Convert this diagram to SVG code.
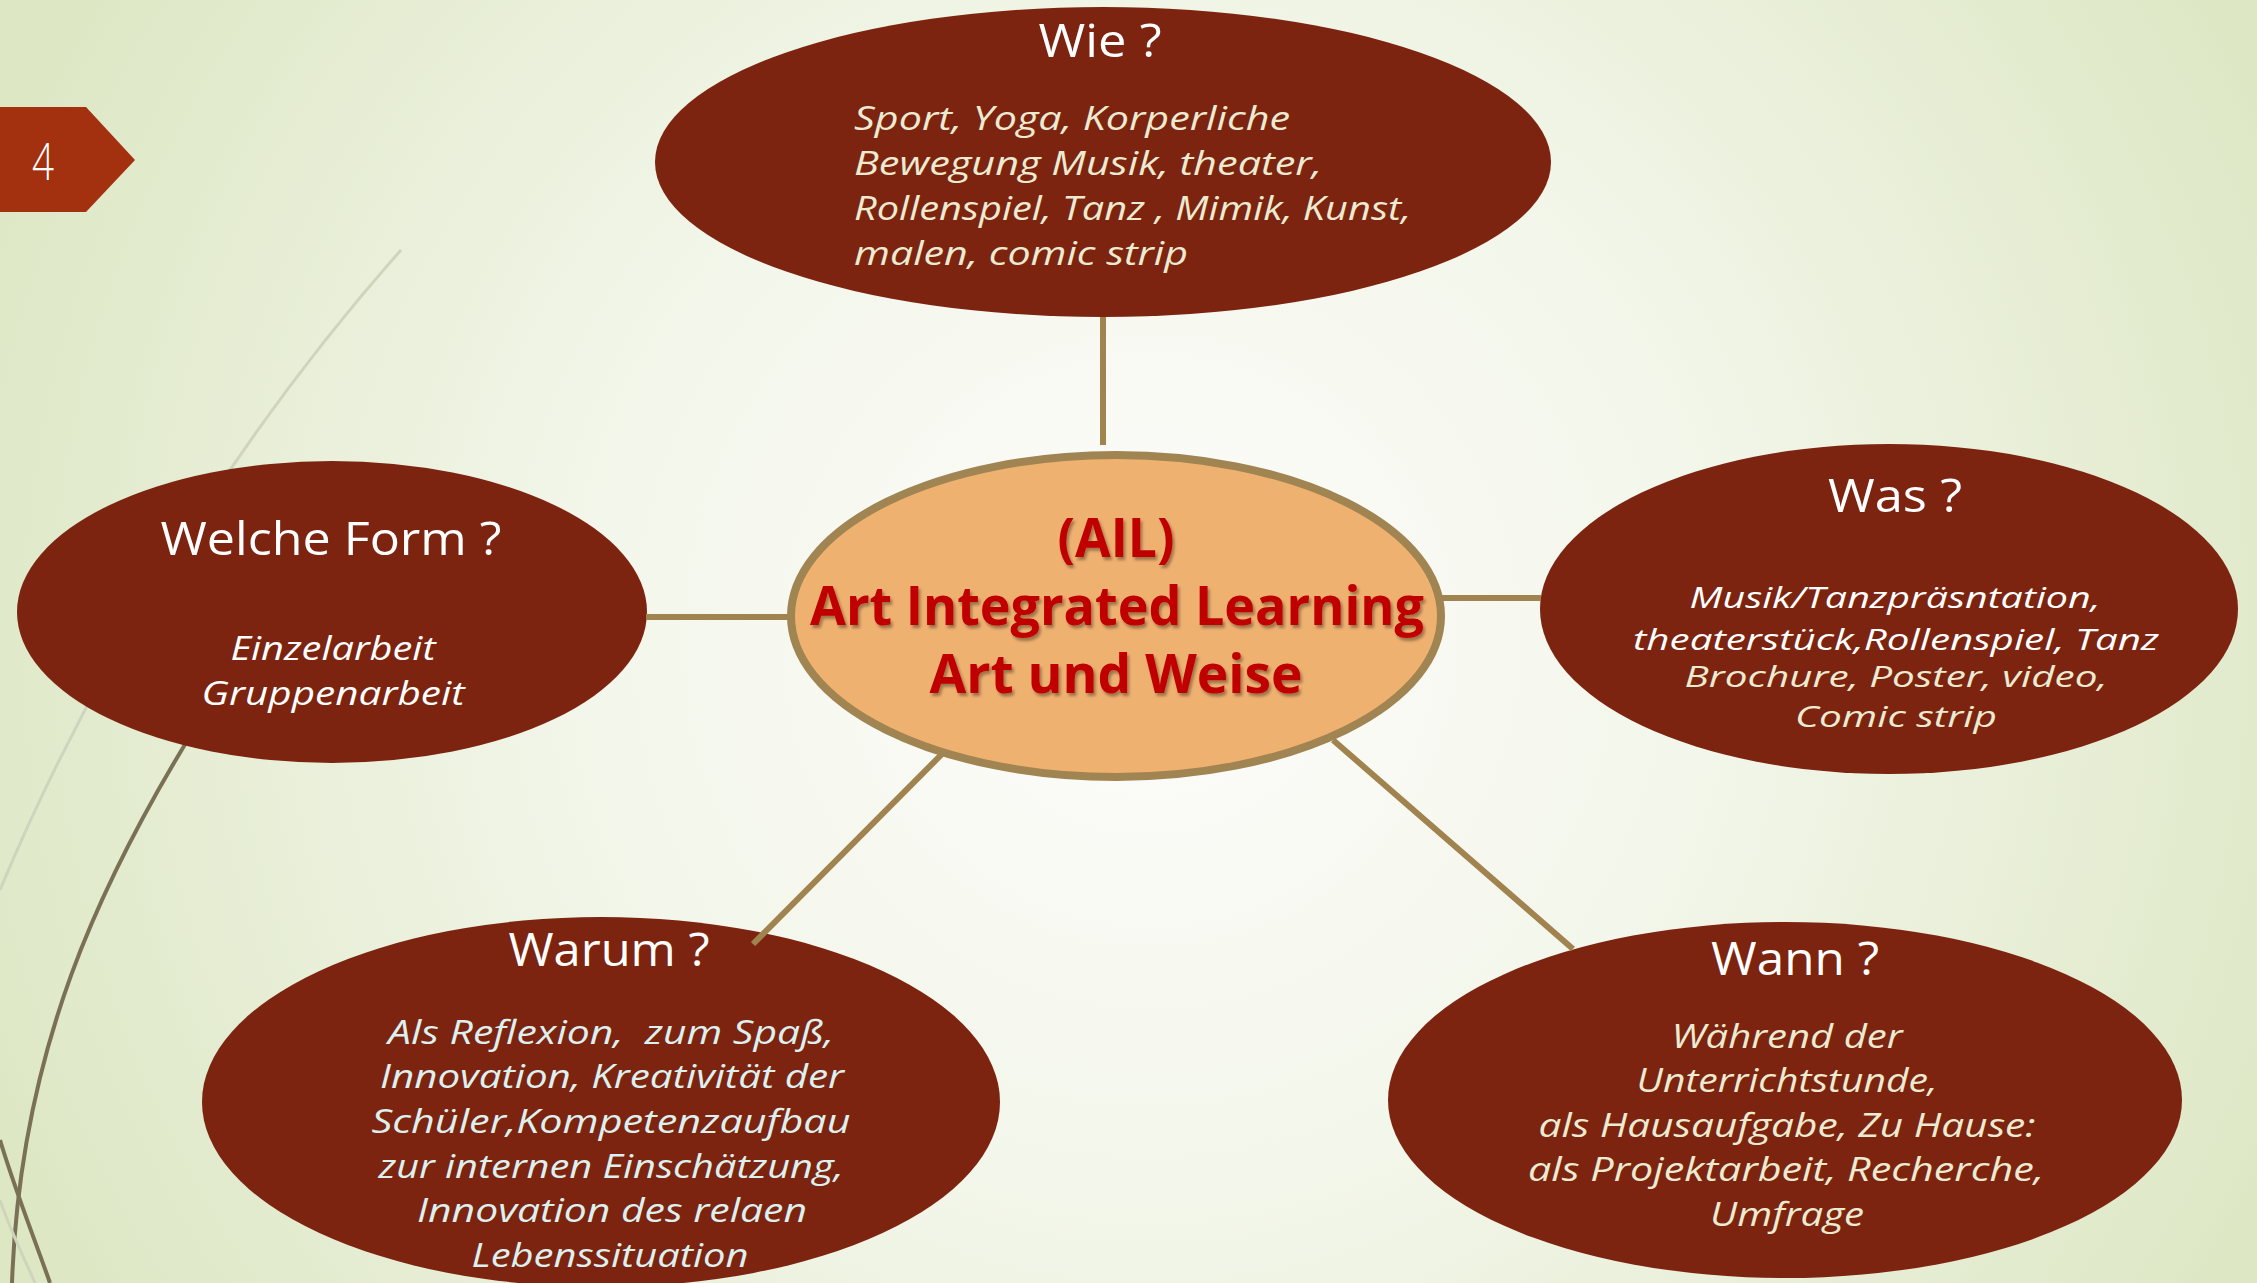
<svg xmlns="http://www.w3.org/2000/svg" width="2257" height="1283" viewBox="0 0 2257 1283">
<defs>
<radialGradient id="bg" cx="1150" cy="640" r="1250" gradientUnits="userSpaceOnUse">
<stop offset="0" stop-color="#fdfdfb"/>
<stop offset="0.45" stop-color="#f3f6ea"/>
<stop offset="1" stop-color="#dde7c4"/>
</radialGradient>
<filter id="sh" x="-10%" y="-20%" width="120%" height="140%">
<feDropShadow dx="2" dy="3" stdDeviation="1.5" flood-color="#000" flood-opacity="0.35"/>
</filter>
</defs>
<style>
.node{fill:#7c2410}
.title{font-family:"Open Sans","Liberation Sans",sans-serif;font-size:46px;fill:#ffffff;text-anchor:middle}
.body{font-family:"Open Sans","Liberation Sans",sans-serif;font-style:italic;font-size:32px;text-anchor:middle}
.cream{fill:#ecebd2}
.white{fill:#ffffff}
.cyan{fill:#dcf1ef}
.conn{stroke:#a0834f;stroke-width:6;fill:none}
.center{font-family:"Open Sans","Liberation Sans",sans-serif;font-weight:bold;font-size:54px;fill:#c00000;text-anchor:middle}
</style>
<rect x="0" y="0" width="2257" height="1283" fill="url(#bg)"/>
<g id="decor" fill="none">
<path d="M401,250 C250,420 100,650 0,890" stroke="#cfd4bd" stroke-width="3"/>
<path d="M200,720 C100,880 20,1050 12,1283" stroke="#7a7055" stroke-width="4"/>
<path d="M0,1140 C15,1190 35,1240 50,1283" stroke="#7a7055" stroke-width="4"/>
<path d="M0,1200 C10,1230 25,1260 35,1283" stroke="#cfd4bd" stroke-width="3"/>
</g>
<g id="slide-number">
<polygon points="0,107 86,107 135,160 86,212 0,212" fill="#a3300f"/>
<text x="43" y="180" font-family="Open Sans, Liberation Sans, sans-serif" font-weight="300" font-size="52" fill="#ffffff" text-anchor="middle" textLength="22" lengthAdjust="spacingAndGlyphs">4</text>
</g>
<g id="node-wie">
<ellipse class="node" cx="1103" cy="162" rx="448" ry="155"/>
<text class="title" x="1100" y="57" textLength="123" lengthAdjust="spacingAndGlyphs">Wie ?</text>
<g class="body cream" style="text-anchor:start">
<text x="854" y="130" textLength="436" lengthAdjust="spacingAndGlyphs">Sport, Yoga, Korperliche</text>
<text x="854" y="175" textLength="468" lengthAdjust="spacingAndGlyphs">Bewegung Musik, theater,</text>
<text x="854" y="220" textLength="557" lengthAdjust="spacingAndGlyphs">Rollenspiel, Tanz , Mimik, Kunst,</text>
<text x="854" y="265" textLength="334" lengthAdjust="spacingAndGlyphs">malen, comic strip</text>
</g>
</g>
<g id="node-welche-form">
<ellipse class="node" cx="332" cy="612" rx="315" ry="151"/>
<text class="title" x="331" y="555" textLength="341" lengthAdjust="spacingAndGlyphs">Welche Form ?</text>
<g class="body white">
<text x="333" y="660" textLength="205" lengthAdjust="spacingAndGlyphs">Einzelarbeit</text>
<text x="333" y="705" textLength="263" lengthAdjust="spacingAndGlyphs">Gruppenarbeit</text>
</g>
</g>
<g id="node-was">
<ellipse class="node" cx="1889" cy="609" rx="349" ry="165"/>
<text class="title" x="1895" y="512" textLength="134" lengthAdjust="spacingAndGlyphs">Was ?</text>
<g class="body" style="font-size:30px">
<text class="white" x="1895" y="608" textLength="411" lengthAdjust="spacingAndGlyphs">Musik/Tanzpräsntation,</text>
<text class="white" x="1896" y="650" textLength="526" lengthAdjust="spacingAndGlyphs">theaterstück,Rollenspiel, Tanz</text>
<text class="cream" x="1896" y="687" textLength="423" lengthAdjust="spacingAndGlyphs">Brochure, Poster, video,</text>
<text class="cream" x="1896" y="727" textLength="202" lengthAdjust="spacingAndGlyphs">Comic strip</text>
</g>
</g>
<g id="node-warum">
<ellipse class="node" cx="601" cy="1102" rx="399" ry="185"/>
<text class="title" x="609" y="966" textLength="201" lengthAdjust="spacingAndGlyphs">Warum ?</text>
<g class="body cyan">
<text x="611" y="1044" textLength="446" lengthAdjust="spacingAndGlyphs" xml:space="preserve">Als Reflexion,  zum Spaß,</text>
<text x="612" y="1088" textLength="464" lengthAdjust="spacingAndGlyphs">Innovation, Kreativität der</text>
<text x="611" y="1133" textLength="479" lengthAdjust="spacingAndGlyphs">Schüler,Kompetenzaufbau</text>
<text x="611" y="1178" textLength="465" lengthAdjust="spacingAndGlyphs">zur internen Einschätzung,</text>
<text x="612" y="1222" textLength="390" lengthAdjust="spacingAndGlyphs">Innovation des relaen</text>
<text x="610" y="1267" textLength="277" lengthAdjust="spacingAndGlyphs">Lebenssituation</text>
</g>
</g>
<g id="node-wann">
<ellipse class="node" cx="1785" cy="1100" rx="397" ry="178"/>
<text class="title" x="1795" y="975" textLength="168" lengthAdjust="spacingAndGlyphs">Wann ?</text>
<g class="body cream">
<text x="1787" y="1048" textLength="231" lengthAdjust="spacingAndGlyphs">Während der</text>
<text x="1787" y="1092" textLength="301" lengthAdjust="spacingAndGlyphs">Unterrichtstunde,</text>
<text x="1787" y="1137" textLength="497" lengthAdjust="spacingAndGlyphs">als Hausaufgabe, Zu Hause:</text>
<text x="1786" y="1181" textLength="516" lengthAdjust="spacingAndGlyphs">als Projektarbeit, Recherche,</text>
<text x="1787" y="1226" textLength="154" lengthAdjust="spacingAndGlyphs">Umfrage</text>
</g>
</g>
<g id="connectors" class="conn">
<line x1="1103" y1="317" x2="1103" y2="445"/>
<line x1="646" y1="617" x2="795" y2="617"/>
<line x1="1438" y1="598" x2="1541" y2="598"/>
<line x1="942" y1="754" x2="753" y2="944"/>
<line x1="1333" y1="740" x2="1573" y2="949"/>
</g>
<g id="node-center">
<ellipse cx="1116" cy="616" rx="325" ry="161" fill="#efb170" stroke="#a08452" stroke-width="8"/>
<g class="center" filter="url(#sh)">
<text x="1116" y="557" textLength="117" lengthAdjust="spacingAndGlyphs">(AIL)</text>
<text x="1117" y="625" textLength="614" lengthAdjust="spacingAndGlyphs">Art Integrated Learning</text>
<text x="1116" y="693" textLength="373" lengthAdjust="spacingAndGlyphs">Art und Weise</text>
</g>
</g>
</svg>
